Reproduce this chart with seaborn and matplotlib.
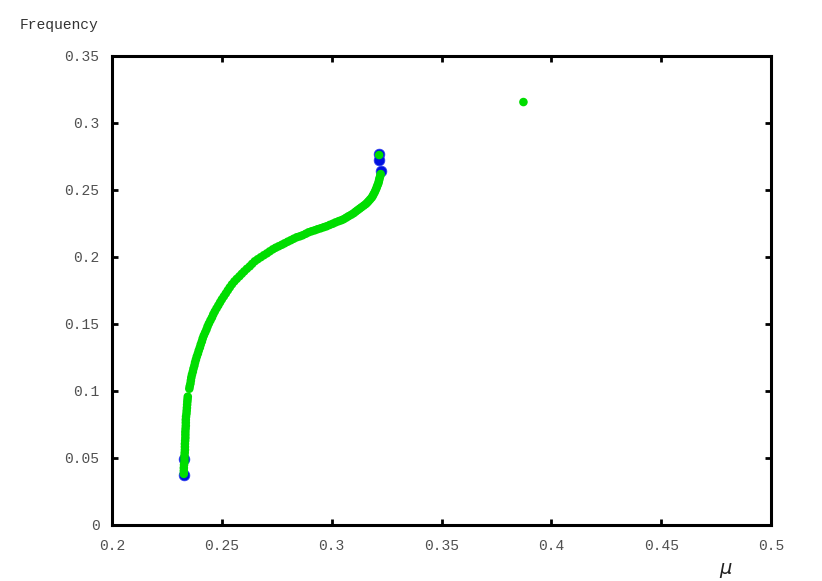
import matplotlib
matplotlib.use("Agg")
import matplotlib.pyplot as plt
import seaborn as sns
import pandas as pd

# stable branch (green)
mu_stable = [
    0.2327, 0.2327, 0.2327, 0.2328, 0.2330, 0.2330, 0.2330, 0.2331, 0.2332, 0.2332,
    0.2332, 0.2333, 0.2334, 0.2334, 0.2334, 0.2335, 0.2336, 0.2336, 0.2336, 0.2337,
    0.2339, 0.2340, 0.2341, 0.2342, 0.2343, 0.2344, 0.2345,
    0.2352, 0.2354, 0.2357, 0.2359, 0.2361, 0.2364, 0.2368, 0.2371, 0.2375, 0.2378,
    0.2382, 0.2386, 0.2391, 0.2395, 0.2400, 0.2404, 0.2409, 0.2413, 0.2418, 0.2424,
    0.2430, 0.2435, 0.2441, 0.2448, 0.2455, 0.2461, 0.2468, 0.2476, 0.2484, 0.2492,
    0.2500, 0.2509, 0.2518, 0.2527, 0.2536, 0.2546, 0.2557, 0.2568, 0.2580, 0.2591,
    0.2602, 0.2614, 0.2627, 0.2638, 0.2650, 0.2663, 0.2677, 0.2691, 0.2705, 0.2718,
    0.2732, 0.2745, 0.2759, 0.2773, 0.2786, 0.2800, 0.2814, 0.2827, 0.2841, 0.2855,
    0.2868, 0.2882, 0.2895, 0.2909, 0.2923, 0.2936, 0.2950, 0.2964, 0.2977, 0.2991,
    0.3005, 0.3018, 0.3032, 0.3044, 0.3055, 0.3066, 0.3077, 0.3089, 0.3100, 0.3109,
    0.3118, 0.3127, 0.3136, 0.3146, 0.3155, 0.3162, 0.3168, 0.3175, 0.3182, 0.3187,
    0.3191, 0.3196, 0.3200, 0.3204, 0.3207, 0.3211, 0.3214, 0.3216, 0.3218, 0.3221,
    0.3223, 0.3216, 0.3873]
freq_stable = [
    0.0381, 0.0404, 0.0426, 0.0449, 0.0471, 0.0494, 0.0516, 0.0539, 0.0561, 0.0583,
    0.0605, 0.0628, 0.0650, 0.0673, 0.0695, 0.0718, 0.0740, 0.0763, 0.0785, 0.0808,
    0.0830, 0.0852, 0.0874, 0.0897, 0.0919, 0.0938, 0.0957,
    0.1016, 0.1035, 0.1054, 0.1077, 0.1099, 0.1121, 0.1143, 0.1166, 0.1188, 0.1211,
    0.1233, 0.1256, 0.1278, 0.1301, 0.1323, 0.1346, 0.1368, 0.1391, 0.1413, 0.1435,
    0.1457, 0.1480, 0.1502, 0.1525, 0.1547, 0.1570, 0.1592, 0.1615, 0.1637, 0.1660,
    0.1682, 0.1704, 0.1726, 0.1749, 0.1771, 0.1794, 0.1816, 0.1835, 0.1854, 0.1873,
    0.1891, 0.1910, 0.1928, 0.1947, 0.1966, 0.1981, 0.1996, 0.2011, 0.2025, 0.2040,
    0.2055, 0.2067, 0.2078, 0.2089, 0.2100, 0.2112, 0.2123, 0.2134, 0.2145, 0.2152,
    0.2160, 0.2171, 0.2182, 0.2190, 0.2197, 0.2205, 0.2212, 0.2220, 0.2227, 0.2237,
    0.2246, 0.2256, 0.2265, 0.2272, 0.2280, 0.2291, 0.2302, 0.2313, 0.2324, 0.2336,
    0.2347, 0.2358, 0.2369, 0.2381, 0.2392, 0.2403, 0.2414, 0.2427, 0.2440, 0.2453,
    0.2466, 0.2481, 0.2496, 0.2511, 0.2526, 0.2541, 0.2556, 0.2571, 0.2586, 0.2601,
    0.2616, 0.2758, 0.3153]

# unstable points (blue)
mu_unstable = [0.2327, 0.2327, 0.3215, 0.3215, 0.3225]
freq_unstable = [0.0374, 0.0493, 0.2765, 0.2724, 0.2638]

xticks = [0.2, 0.25, 0.3, 0.35, 0.4, 0.45, 0.5]
xticklabels = ["0.2", "0.25", "0.3", "0.35", "0.4", "0.45", "0.5"]
yticks = [0, 0.05, 0.1, 0.15, 0.2, 0.25, 0.3, 0.35]
yticklabels = ["0", "0.05", "0.1", "0.15", "0.2", "0.25", "0.3", "0.35"]

sns.set_style("white")
plt.rcParams["font.family"] = ["Liberation Mono", "DejaVu Sans Mono"]

df_s = pd.DataFrame({"mu": mu_stable, "freq": freq_stable})
df_u = pd.DataFrame({"mu": mu_unstable, "freq": freq_unstable})

fig = plt.figure(figsize=(8.22, 5.81), dpi=100)
ax = fig.add_axes([112 / 822, 1 - 525 / 581, (771 - 112) / 822, (525 - 55.5) / 581])

sns.scatterplot(data=df_u, x="mu", y="freq", ax=ax, color="#0010e0", s=60,
                edgecolor="#3040f0", linewidth=0.5, zorder=3)
sns.scatterplot(data=df_s, x="mu", y="freq", ax=ax, color="#00dd00", s=38,
                edgecolor="none", linewidth=0, zorder=4)

ax.set_xlim(0.2, 0.5)
ax.set_ylim(0, 0.35)
ax.set_xticks(xticks)
ax.set_xticklabels(xticklabels)
ax.set_yticks(yticks)
ax.set_yticklabels(yticklabels)
ax.set_xlabel("")
ax.set_ylabel("")

for sp in ax.spines.values():
    sp.set_visible(True)
    sp.set_color("black")
    sp.set_linewidth(2.2)

ax.tick_params(axis="both", which="major", direction="in", length=4.5, width=2,
               color="black", labelcolor="#505050", labelsize=10.5,
               top=True, right=True, bottom=True, left=True)
ax.tick_params(axis="x", pad=10)
ax.tick_params(axis="y", pad=9)

fig.text(20 / 822, 1 - 25 / 581, "Frequency", fontsize=10.5, color="#333333",
         ha="left", va="center")
fig.text(725 / 822, 1 - 568 / 581, "μ", fontsize=14, style="italic", color="#222222",
         ha="center", va="center", family=["DejaVu Sans"])

fig.savefig("out.png", dpi=100)
